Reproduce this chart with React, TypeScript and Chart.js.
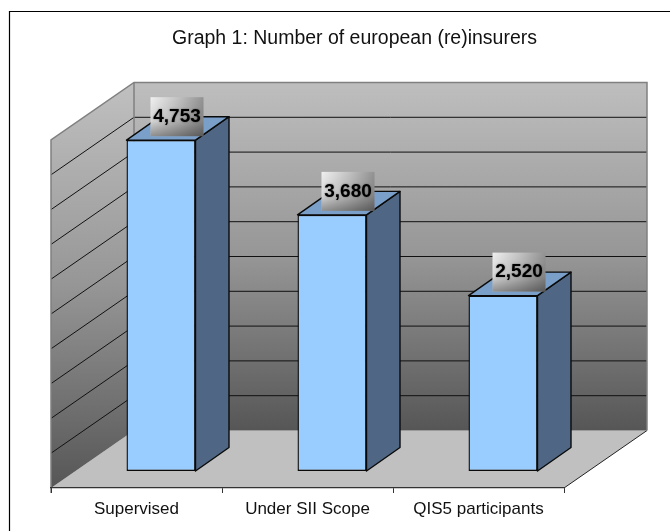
import React, { useEffect, useRef } from "react";
import { Chart, registerables } from "chart.js";

Chart.register(...registerables);

const categories = ["Supervised", "Under SII Scope", "QIS5 participants"];
const insurers = [4753, 3680, 2520];
const axisMin = 0;
const axisMax = 5000;
const axisStep = 500;
const chartTitle = "Graph 1: Number of european (re)insurers";

// Perspective of the 3D look
const DEPTH_X = 83;
const DEPTH_Y = -57.5;
const BAR_GAP_X = 24.5;
const BAR_GAP_Y = -17;
const BAR_DEPTH_X = 33.5;
const BAR_DEPTH_Y = -23.5;

const stage3d = {
  id: "stage3d",
  afterLayout(chart: any) {
    const t = chart.titleBlock;
    if (t) {
      t.left = 172;
      t.right = 537;
      t.top = -1;
      t.bottom = 51;
    }
  },
  beforeDraw(chart: any) {
    const { ctx, chartArea, scales } = chart;
    const { left, right, bottom, top } = chartArea;
    const backL = left + DEPTH_X;
    const backR = right + DEPTH_X;
    const backB = bottom + DEPTH_Y;
    const backT = top + DEPTH_Y;
    ctx.save();

    // frame: only the left and top rules fall inside the picture
    ctx.strokeStyle = "#000";
    ctx.lineWidth = 1.2;
    ctx.beginPath();
    ctx.moveTo(9.5, 531);
    ctx.lineTo(9.5, 11.5);
    ctx.lineTo(670, 11.5);
    ctx.stroke();

    // floor
    ctx.fillStyle = "#C0C0C0";
    ctx.beginPath();
    ctx.moveTo(left, bottom);
    ctx.lineTo(backL, backB);
    ctx.lineTo(backR, backB);
    ctx.lineTo(right, bottom);
    ctx.closePath();
    ctx.fill();
    ctx.strokeStyle = "#222";
    ctx.lineWidth = 1;
    ctx.beginPath();
    ctx.moveTo(backR, backB);
    ctx.lineTo(right, bottom);
    ctx.stroke();

    // back wall
    const g = ctx.createLinearGradient(0, backT, 0, backB);
    g.addColorStop(0, "#BEBEBE");
    g.addColorStop(0.5, "#969696");
    g.addColorStop(1, "#565656");
    ctx.fillStyle = g;
    ctx.fillRect(backL, backT, backR - backL, backB - backT);

    // left wall
    const g2 = ctx.createLinearGradient(0, backT, 0, bottom);
    g2.addColorStop(0, "#C0C0C0");
    g2.addColorStop(0.5, "#969696");
    g2.addColorStop(1, "#565656");
    ctx.fillStyle = g2;
    ctx.beginPath();
    ctx.moveTo(left, top);
    ctx.lineTo(backL, backT);
    ctx.lineTo(backL, backB);
    ctx.lineTo(left, bottom);
    ctx.closePath();
    ctx.fill();

    // wall gridlines from the value scale
    const y = scales.y;
    ctx.strokeStyle = "#111";
    ctx.lineWidth = 1;
    y.ticks.forEach((tick: any) => {
      if (tick.value <= axisMin || tick.value >= axisMax) return;
      const py = y.getPixelForValue(tick.value);
      ctx.beginPath();
      ctx.moveTo(left, py);
      ctx.lineTo(backL, py + DEPTH_Y);
      ctx.lineTo(backR, py + DEPTH_Y);
      ctx.stroke();
    });

    // wall outlines
    ctx.strokeStyle = "#808080";
    ctx.lineWidth = 1.5;
    ctx.beginPath();
    ctx.moveTo(left, bottom + 5);
    ctx.lineTo(left, top);
    ctx.lineTo(backL, backT);
    ctx.lineTo(backR, backT);
    ctx.lineTo(backR, backB);
    ctx.moveTo(backL, backT);
    ctx.lineTo(backL, backB);
    ctx.stroke();
    ctx.restore();
  },
  beforeDatasetDraw(chart: any, args: any) {
    const { ctx } = chart;
    const meta = chart.getDatasetMeta(args.index);
    ctx.save();
    ctx.translate(BAR_GAP_X, BAR_GAP_Y);
    ctx.lineWidth = 1.4;
    ctx.strokeStyle = "#0A0A0A";
    ctx.lineJoin = "round";
    meta.data.forEach((bar: any) => {
      const r = bar.x + bar.width / 2;
      const l = bar.x - bar.width / 2;
      const top = bar.y;
      const base = bar.base;
      // side face
      ctx.fillStyle = "#4F6784";
      ctx.beginPath();
      ctx.moveTo(r, top);
      ctx.lineTo(r + BAR_DEPTH_X, top + BAR_DEPTH_Y);
      ctx.lineTo(r + BAR_DEPTH_X, base + BAR_DEPTH_Y);
      ctx.lineTo(r, base);
      ctx.closePath();
      ctx.fill();
      ctx.stroke();
      // top face
      ctx.fillStyle = "#7A9FC8";
      ctx.beginPath();
      ctx.moveTo(l, top);
      ctx.lineTo(l + BAR_DEPTH_X, top + BAR_DEPTH_Y);
      ctx.lineTo(r + BAR_DEPTH_X, top + BAR_DEPTH_Y);
      ctx.lineTo(r, top);
      ctx.closePath();
      ctx.fill();
      ctx.stroke();
    });
  },
  afterDatasetDraw(chart: any, args: any) {
    const { ctx } = chart;
    const meta = chart.getDatasetMeta(args.index);
    ctx.restore();
    ctx.save();
    ctx.translate(BAR_GAP_X, BAR_GAP_Y);
    meta.data.forEach((bar: any, i: number) => {
      const cx = bar.x + 16;
      const cy = bar.y - 23.5;
      const w = 53;
      const h = 39;
      const x0 = cx - w / 2;
      const y0 = cy - h / 2;
      const g = ctx.createLinearGradient(x0, y0, x0 + w, y0);
      g.addColorStop(0, "#F0F0F0");
      g.addColorStop(0.5, "#C4C4C4");
      g.addColorStop(1, "#929292");
      ctx.fillStyle = g;
      ctx.fillRect(x0, y0, w, h);
      const shade = ctx.createLinearGradient(0, y0, 0, y0 + h);
      shade.addColorStop(0, "rgba(0,0,0,0)");
      shade.addColorStop(0.6, "rgba(0,0,0,0.1)");
      shade.addColorStop(1, "rgba(0,0,0,0.4)");
      ctx.fillStyle = shade;
      ctx.fillRect(x0, y0, w, h);
      ctx.save();
      ctx.shadowColor = "rgba(0,0,0,0.45)";
      ctx.shadowBlur = 2;
      ctx.fillStyle = "#000";
      ctx.font = 'bold 19px "Liberation Sans", Arial, sans-serif';
      ctx.textAlign = "center";
      ctx.textBaseline = "middle";
      ctx.fillText(insurers[i].toLocaleString("en-US"), cx, cy);
      ctx.restore();
    });
    ctx.restore();
  },
};

export default function App() {
  const ref = useRef<HTMLCanvasElement | null>(null);
  useEffect(() => {
    if (!ref.current) return;
    const chart = new Chart(ref.current, {
      type: "bar",
      data: {
        labels: categories,
        datasets: [
          {
            label: "Number of insurers",
            data: insurers,
            backgroundColor: "#99CCFF",
            borderColor: "#0A0A0A",
            borderWidth: 1.4,
            borderSkipped: false,
            categoryPercentage: 1,
            barPercentage: 0.4035,
            clip: false,
          } as any,
        ],
      },
      options: {
        animation: false,
        responsive: false,
        layout: { padding: { left: 51, right: 106, top: 0, bottom: 0 } },
        plugins: {
          legend: { display: false },
          tooltip: { enabled: false },
          title: {
            display: true,
            text: chartTitle,
            color: "#111",
            font: { family: '"Liberation Sans", Arial, sans-serif', size: 19.5, weight: "normal" },
            padding: { top: 28, bottom: 88.6 },
          },
        },
        scales: {
          x: {
            afterFit(scale: any) {
              scale.height = 43;
            },
            border: { color: "#333", width: 1.2 },
            grid: { drawOnChartArea: false, tickLength: 5, color: "#333", drawTicks: true },
            ticks: {
              color: "#111",
              padding: 6,
              maxRotation: 0,
              font: { family: '"Liberation Sans", Arial, sans-serif', size: 17 },
            },
          },
          y: {
            display: false,
            min: axisMin,
            max: axisMax,
            ticks: { stepSize: axisStep },
            afterFit(scale: any) {
              scale.width = 0;
            },
          },
        },
      } as any,
      plugins: [stage3d],
    });
    return () => chart.destroy();
  }, []);
  return (
    <canvas
      ref={ref}
      width={670}
      height={531}
      style={{ position: "absolute", left: 0, top: 0, display: "block" }}
    />
  );
}
